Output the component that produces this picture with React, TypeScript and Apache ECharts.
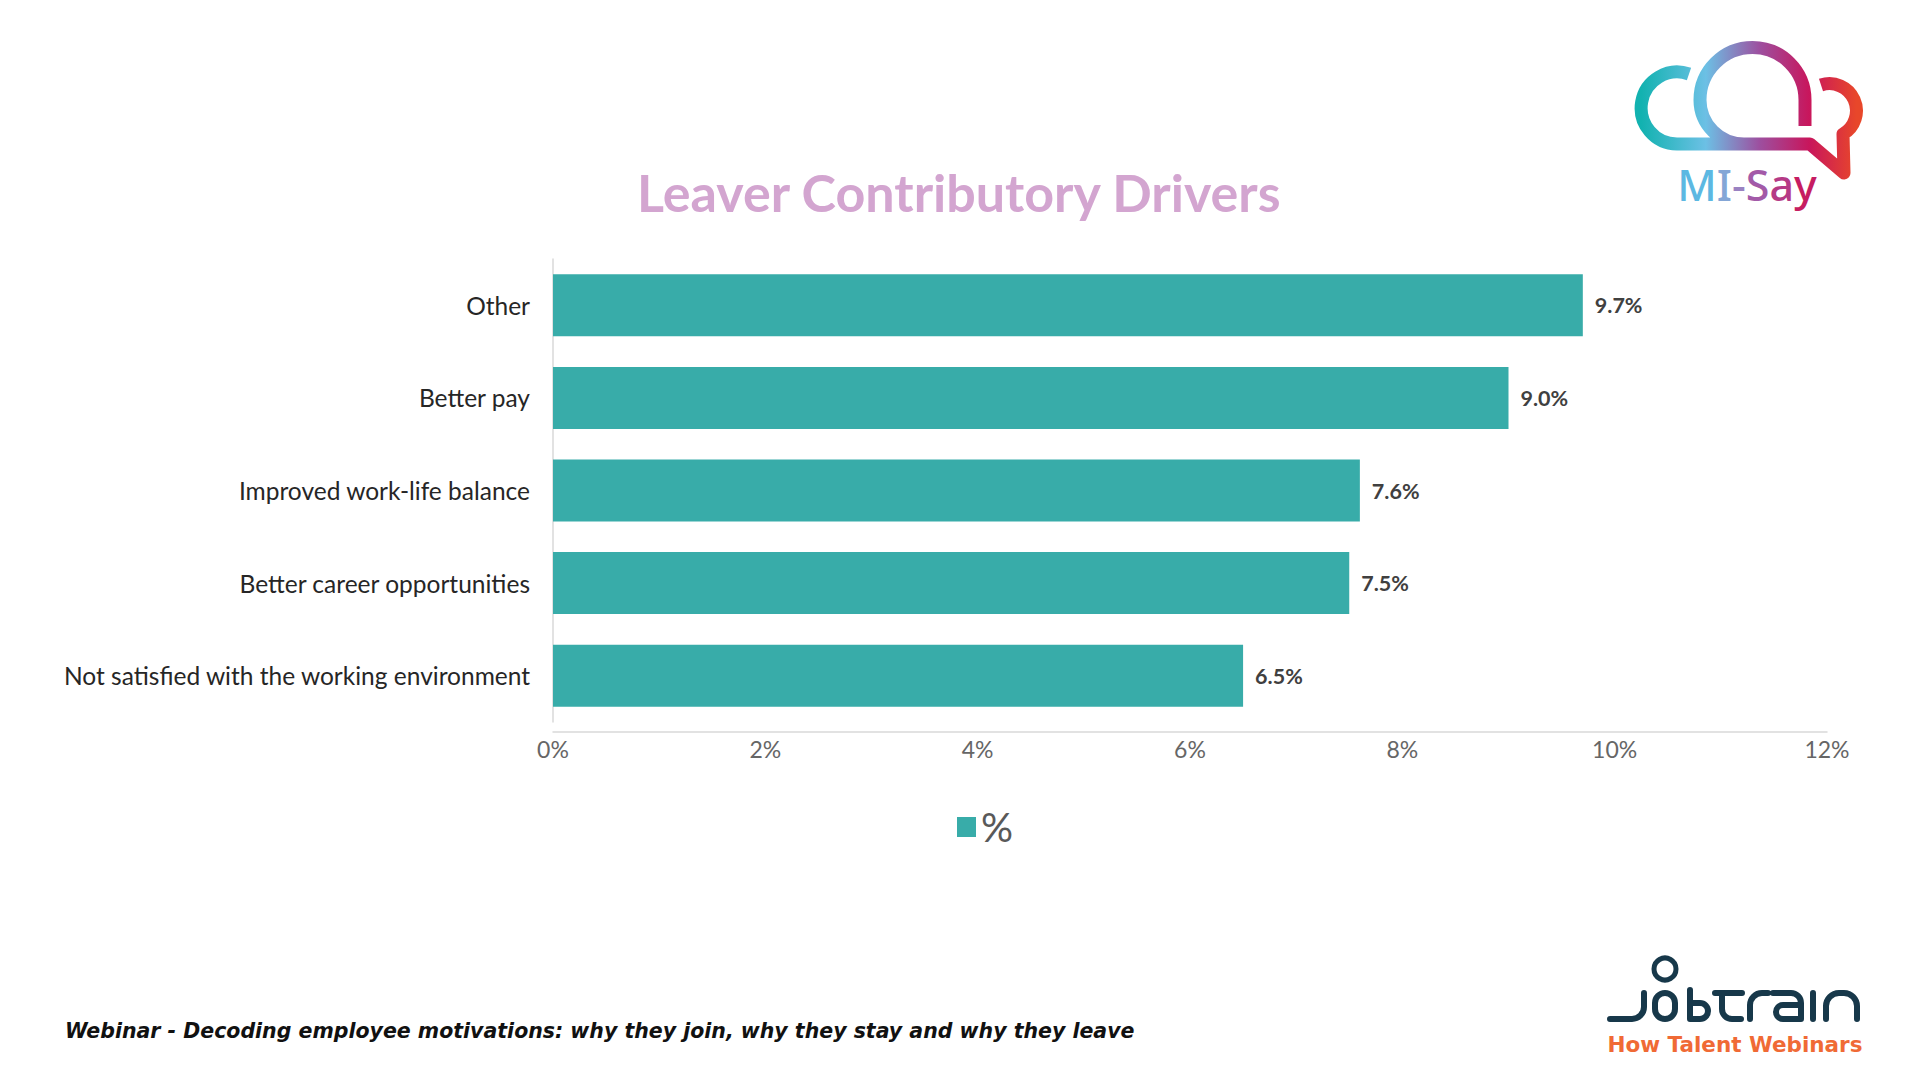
import React, { useEffect, useRef } from "react";
import * as echarts from "echarts";

const categories = [
  "Other",
  "Better pay",
  "Improved work-life balance",
  "Better career opportunities",
  "Not satisfied with the working environment",
];
const values = [9.7, 9.0, 7.6, 7.5, 6.5];
const seriesName = "%";
const titleText = "Leaver Contributory Drivers";
const footerText =
  "Webinar - Decoding employee motivations: why they join, why they stay and why they leave";

const cloudPath =
  "M1689 74 A36 36 0 1 0 1677 144 L1810 144 L1844 173 L1843 134 A27 27 0 0 0 1821 85 " +
  "M1805 126 L1805 100 A52.5 52.5 0 0 0 1700 100 A44 44 0 0 0 1744 144";

const jobtrainPath =
  "M1610 1019 L1632 1019 A12 12 0 0 0 1644 1007 L1644 993 " +
  "M1665 993 A10 10 0 0 1 1675 1003 L1675 1009 A10 10 0 0 1 1665 1019 A10 10 0 0 1 1655 1009 L1655 1003 A10 10 0 0 1 1665 993 Z " +
  "M1690 990 L1690 1019 L1700 1019 A8 8 0 0 0 1708 1011 A8 8 0 0 0 1700 1003 L1690 1003 " +
  "M1715 993 L1742 993 M1722 993 L1722 1009 A10 10 0 0 0 1732 1019 L1741 1019 " +
  "M1750 1019 L1750 1005 A12 12 0 0 1 1762 993 L1768 993 " +
  "M1773 993 L1791 993 A10 10 0 0 1 1801 1003 L1801 1019 L1783 1019 A7 7 0 0 1 1783 1005 L1801 1005 " +
  "M1813 993 L1813 1019 " +
  "M1826 1019 L1826 1006 A13 13 0 0 1 1839 993 L1844 993 A13 13 0 0 1 1857 1006 L1857 1019";

let registered = false;
function registerShapes() {
  if (registered) return;
  echarts.graphic.registerShape("cloudLogo", echarts.graphic.extendPath(cloudPath, {}));
  echarts.graphic.registerShape("jobtrainLogo", echarts.graphic.extendPath(jobtrainPath, {}));
  registered = true;
}

const logoLetter = (color: string) => ({
  fontFamily: "Noto Sans",
  fontWeight: 500,
  fontSize: 43,
  fill: color,
});

export default function App() {
  const ref = useRef<HTMLDivElement>(null);

  useEffect(() => {
    document.body.style.margin = "0";
    registerShapes();
    const chart = echarts.init(ref.current!, null, { renderer: "svg" });
    const cloudGrad = new echarts.graphic.LinearGradient(0, 0, 1, 0, [
      { offset: 0, color: "#12b2b0" },
      { offset: 0.3, color: "#6cc0e5" },
      { offset: 0.55, color: "#9d4f9f" },
      { offset: 0.78, color: "#c8165c" },
      { offset: 1, color: "#e8472a" },
    ]);
    chart.setOption({
      animation: false,
      backgroundColor: "#ffffff",
      grid: { left: 553, right: 93, top: 259, bottom: 358, containLabel: false },
      legend: {
        data: [seriesName],
        left: 952,
        top: 802,
        icon: "rect",
        itemWidth: 19,
        itemHeight: 20,
        itemGap: 6,
        textStyle: { fontFamily: "Lato", fontSize: 40, color: "#595959" },
      },
      xAxis: {
        type: "value",
        min: 0,
        max: 12,
        interval: 2,
        offset: 10,
        axisLine: { show: true, lineStyle: { color: "#d9d9d9", width: 1.5 } },
        axisTick: { show: false },
        splitLine: { show: false },
        axisLabel: {
          formatter: "{value}%",
          fontFamily: "Lato",
          fontSize: 23,
          color: "#666666",
          margin: 5,
        },
      },
      yAxis: {
        type: "category",
        data: categories,
        inverse: true,
        axisLine: { show: true, lineStyle: { color: "#d9d9d9", width: 1.5 } },
        axisTick: { show: false },
        axisLabel: {
          fontFamily: "Lato",
          fontSize: 24.5,
          color: "#262626",
          margin: 23,
        },
      },
      series: [
        {
          name: seriesName,
          type: "bar",
          data: values,
          barCategoryGap: "33%",
          itemStyle: { color: "#38aca9" },
          label: {
            show: true,
            position: "right",
            distance: 12,
            formatter: (p: any) => Number(p.value).toFixed(1) + "%",
            fontFamily: "Lato",
            fontWeight: "bold",
            fontSize: 21.5,
            color: "#404040",
          },
        },
      ],
      graphic: [
        {
          type: "text",
          left: "center",
          top: 166,
          style: {
            text: titleText,
            fontFamily: "Lato",
            fontWeight: "bold",
            fontSize: 52,
            fill: "#d3a5d0",
          },
        },
        {
          type: "text",
          x: 65,
          y: 1031,
          style: {
            text: footerText,
            fontFamily: "DejaVu Sans",
            fontWeight: "bold",
            fontStyle: "italic",
            fontSize: 20.5,
            fill: "#111111",
            verticalAlign: "middle",
          },
        },
        {
          type: "cloudLogo",
          x: 0,
          y: 0,
          style: { fill: "none", stroke: cloudGrad, lineWidth: 13, lineJoin: "round" },
        },
        {
          type: "text",
          x: 1747,
          y: 184,
          style: {
            text: "{m|M}{i|I}{d|-}{s|S}{a|a}{y|y}",
            align: "center",
            verticalAlign: "middle",
            rich: {
              m: logoLetter("#5cb8e2"),
              i: logoLetter("#84a6d6"),
              d: logoLetter("#9a82c2"),
              s: logoLetter("#a35aa8"),
              a: logoLetter("#b53a86"),
              y: logoLetter("#c61d62"),
            },
          },
        },
        {
          type: "jobtrainLogo",
          x: 0,
          y: 0,
          style: { fill: "none", stroke: "#17384a", lineWidth: 6, lineCap: "round", lineJoin: "round" },
        },
        {
          type: "circle",
          shape: { cx: 1665, cy: 969, r: 11 },
          style: { fill: "none", stroke: "#17384a", lineWidth: 5 },
        },
        {
          type: "text",
          x: 1735,
          y: 1044,
          style: {
            text: "How Talent Webinars",
            fontFamily: "DejaVu Sans",
            fontWeight: "bold",
            fontSize: 21.5,
            fill: "#f06a35",
            align: "center",
            verticalAlign: "middle",
          },
        },
      ],
    });
    return () => chart.dispose();
  }, []);

  return <div ref={ref} style={{ width: 1920, height: 1080 }} />;
}
